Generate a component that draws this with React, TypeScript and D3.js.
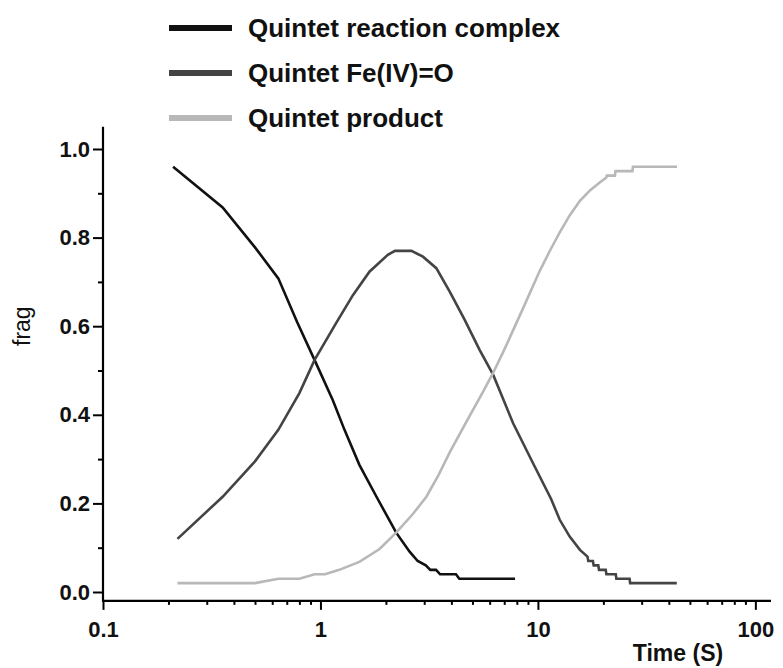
import React, { useRef, useEffect } from 'react';
import * as d3 from 'd3';

// time in seconds, fraction
const complexData = [
  [0.21, 0.96], [0.355, 0.868], [0.5, 0.778], [0.64, 0.708], [0.78, 0.61], [0.955, 0.516],
  [1.14, 0.433], [1.29, 0.366], [1.51, 0.287], [1.81, 0.215], [2.23, 0.134], [2.57, 0.091],
  [2.8, 0.07], [3.05, 0.06], [3.2, 0.05], [3.4, 0.05], [3.55, 0.04], [4.2, 0.04], [4.35, 0.03],
  [7.85, 0.03]
];
const feoData = [
  [0.22, 0.12], [0.355, 0.215], [0.5, 0.295], [0.64, 0.366], [0.8, 0.449], [0.94, 0.524],
  [1.18, 0.607], [1.41, 0.67], [1.68, 0.723], [2.04, 0.761], [2.2, 0.77], [2.62, 0.77],
  [2.96, 0.757], [3.41, 0.731], [3.93, 0.678], [4.6, 0.615], [5.4, 0.546], [6.23, 0.49],
  [7.69, 0.381], [9.51, 0.29], [11.5, 0.21], [12.6, 0.163], [14.0, 0.125], [15.6, 0.095],
  [16.9, 0.08], [17.05, 0.07], [17.9, 0.07], [18.05, 0.06], [18.95, 0.06], [19.1, 0.05],
  [20.5, 0.05], [20.65, 0.04], [22.8, 0.04], [22.95, 0.03], [26.4, 0.03], [26.55, 0.02],
  [43.5, 0.02]
];
const productData = [
  [0.22, 0.02], [0.5, 0.02], [0.64, 0.03], [0.8, 0.03], [0.94, 0.04], [1.05, 0.04],
  [1.22, 0.05], [1.51, 0.068], [1.87, 0.097], [2.23, 0.134], [2.66, 0.176], [3.07, 0.215],
  [3.5, 0.265], [3.93, 0.315], [4.7, 0.385], [5.59, 0.452], [6.23, 0.495], [7.05, 0.55],
  [8.5, 0.638], [10.2, 0.725], [11.4, 0.772], [12.6, 0.812], [14.0, 0.85], [15.6, 0.883],
  [17.4, 0.907], [19.3, 0.925], [20.6, 0.935], [20.75, 0.94], [22.6, 0.94], [22.75, 0.95],
  [27.2, 0.95], [27.35, 0.96], [43.6, 0.96]
];

const seriesNames = ['Quintet reaction complex', 'Quintet Fe(IV)=O', 'Quintet product'];
const seriesColors = ['#111111', '#444444', '#b8b8b8'];
const timeTicks = [0.1, 1, 10, 100];
const fracTicks = [0, 0.2, 0.4, 0.6, 0.8, 1.0];

const W = 783, H = 668;
const FONT = '"Liberation Sans", Arial, Helvetica, sans-serif';

const App = () => {
  const ref = useRef(null);

  useEffect(() => {
    const svg = d3.select(ref.current);
    svg.selectAll('*').remove();

    const x = d3.scaleLog().domain([0.1, 118]).range([103, 771]);
    const y = d3.scaleLinear().domain([0, 1]).range([592, 149]);
    const x0 = x(0.1), yBase = y(-0.02);

    // legend
    const legend = svg.append('g');
    seriesNames.forEach((name, i) => {
      const ly = 28 + i * 45;
      legend.append('line')
        .attr('x1', 169).attr('x2', 232).attr('y1', ly).attr('y2', ly)
        .attr('stroke', seriesColors[i]).attr('stroke-width', 6);
      legend.append('text')
        .attr('x', 248).attr('y', ly)
        .attr('dominant-baseline', 'central')
        .style('font-family', FONT).style('font-size', '26px').style('font-weight', 'bold')
        .attr('fill', '#111')
        .text(name);
    });

    // curves
    const line = d3.line().x(d => x(d[0])).y(d => y(d[1]));
    [complexData, feoData, productData].forEach((data, i) => {
      svg.append('path')
        .datum(data)
        .attr('fill', 'none')
        .attr('stroke', seriesColors[i])
        .attr('stroke-width', 2.6)
        .attr('d', line);
    });

    // y axis
    const yMajor = svg.append('g').attr('transform', `translate(${x0},0)`)
      .call(d3.axisLeft(y).tickValues(fracTicks).tickSize(10).tickPadding(3).tickFormat(d3.format('.1f')));
    yMajor.select('.domain').remove();
    const yMinor = svg.append('g').attr('transform', `translate(${x0},0)`)
      .call(d3.axisLeft(y).tickValues(y.ticks(10).filter(v => Math.round(v * 10) % 2 === 1)).tickSize(5).tickFormat(() => ''));
    yMinor.select('.domain').remove();
    svg.append('line')
      .attr('x1', x0).attr('x2', x0).attr('y1', y(1.05)).attr('y2', yBase)
      .attr('stroke', '#000').attr('stroke-width', 2.2);

    // x axis
    const xMajor = svg.append('g').attr('transform', `translate(0,${yBase})`)
      .call(d3.axisBottom(x).tickValues(timeTicks).tickSize(9).tickPadding(12).tickFormat(d => String(d)));
    xMajor.select('.domain').remove();
    const xMinor = svg.append('g').attr('transform', `translate(0,${yBase})`)
      .call(d3.axisBottom(x).tickValues(x.ticks().filter(v => !timeTicks.some(t => Math.abs(t - v) < 1e-9))).tickSize(4).tickFormat(() => ''));
    xMinor.select('.domain').remove();
    svg.append('line')
      .attr('x1', x0 - 1).attr('x2', x(118)).attr('y1', yBase).attr('y2', yBase)
      .attr('stroke', '#000').attr('stroke-width', 2.2);

    [yMajor, yMinor, xMajor, xMinor].forEach(g => {
      g.selectAll('.tick line').attr('stroke', '#000').attr('stroke-width', 2);
      g.selectAll('.tick text')
        .attr('fill', '#111')
        .style('font-family', FONT).style('font-size', '22px').style('font-weight', 'bold');
    });

    // axis titles
    svg.append('text')
      .attr('transform', `translate(30,${y(0.6)}) rotate(-90)`)
      .attr('text-anchor', 'middle')
      .style('font-family', FONT).style('font-size', '23px')
      .attr('fill', '#111')
      .text('frag');
    svg.append('text')
      .attr('x', 678).attr('y', 661)
      .attr('text-anchor', 'middle')
      .style('font-family', FONT).style('font-size', '23px').style('font-weight', 'bold')
      .attr('fill', '#111')
      .text('Time (S)');
  }, []);

  return (
    <svg ref={ref} width={W} height={H}
      style={{ position: 'absolute', left: 0, top: 0, background: '#fff' }} />
  );
};

export default App;
